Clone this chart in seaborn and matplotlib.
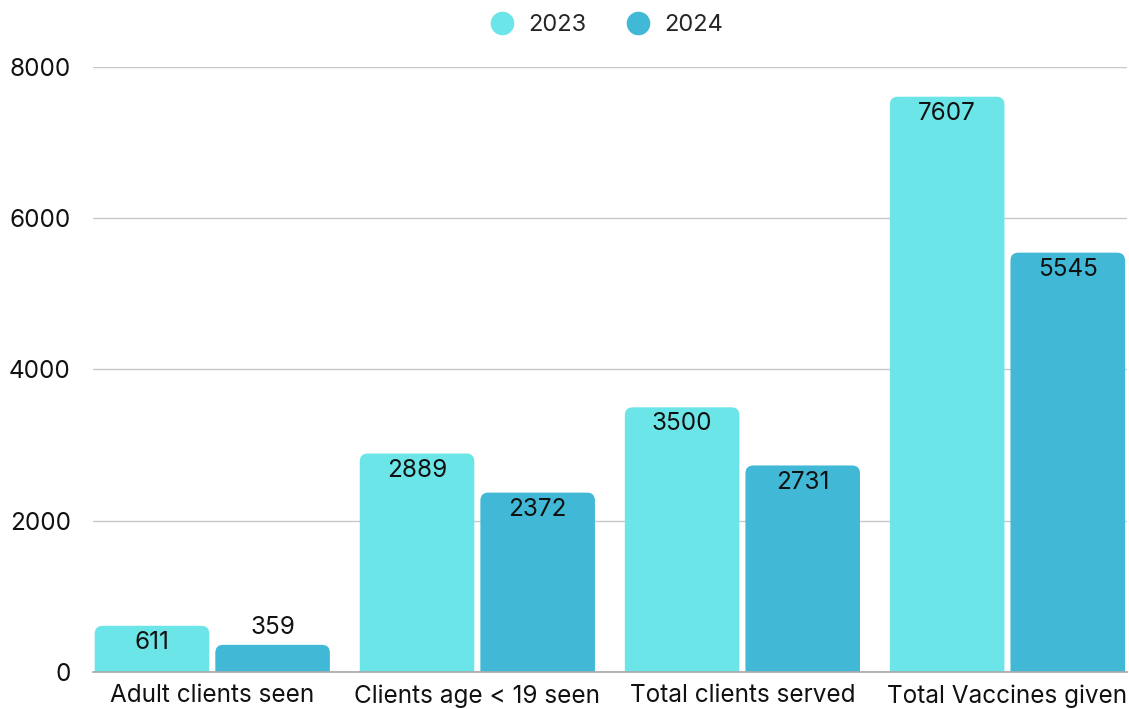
import pandas as pd
import matplotlib.pyplot as plt
import seaborn as sns
from matplotlib.patches import FancyBboxPatch
from matplotlib.lines import Line2D

# -----------------------------
# Data
# -----------------------------
categories = ["Adult clients seen", "Clients age < 19 seen",
              "Total clients served", "Total Vaccines given"]
years = ["2023", "2024"]
values_2023 = [611, 2889, 3500, 7607]
values_2024 = [359, 2372, 2731, 5545]
colors = ["#6ce5e8", "#41b8d5"]

df = pd.DataFrame({
    "category": categories * 2,
    "year": [years[0]] * 4 + [years[1]] * 4,
    "value": values_2023 + values_2024,
})

# Style
sns.set_theme(style="white")
plt.rcParams["font.family"] = ["Inter", "DejaVu Sans"]

fig = plt.figure(figsize=(11.29, 7.09), dpi=100)
ax = fig.add_axes([0.0824, 0.0522, 0.9156, 0.8533])

sns.barplot(data=df, x="category", y="value", hue="year",
            palette=colors, saturation=1, width=0.91, gap=0.05,
            ax=ax, legend=False)

ax.set_xlim(-0.45, 3.45)
ax.set_ylim(0, 8000)

# -----------------------------
# Rounded bars + labels
# -----------------------------
bars = [p for p in ax.patches if p.get_height() > 0]
for p in bars:
    x, w, h = p.get_x(), p.get_width(), p.get_height()
    fc = p.get_facecolor()
    p.set_visible(False)
    rb = FancyBboxPatch((x, -300), w, h + 300,
                        boxstyle="round,pad=0,rounding_size=0.03",
                        mutation_aspect=3500, fc=fc, ec="none", zorder=2)
    ax.add_patch(rb)
    if h > 500:
        ax.text(x + w / 2, h - 220, f"{int(h)}", ha="center", va="center",
                fontsize=17.5, color="#111111", zorder=3)
    else:
        ax.text(x + w / 2, h + 225, f"{int(h)}", ha="center", va="center",
                fontsize=17.5, color="#111111", zorder=3)

# -----------------------------
# Axes styling
# -----------------------------
ax.set_yticks([0, 2000, 4000, 6000, 8000])
ax.yaxis.grid(True, color="#c8c8c8", linewidth=1)
ax.set_axisbelow(True)
for s in ["top", "right", "left"]:
    ax.spines[s].set_visible(False)
ax.spines["bottom"].set_color("#aaaaaa")
ax.spines["bottom"].set_zorder(4)
ax.tick_params(axis="y", length=0, pad=16, labelsize=17.5, labelcolor="#111111")
ax.tick_params(axis="x", length=0, pad=9, labelsize=17.5, labelcolor="#111111")
ax.set_xlabel("")
ax.set_ylabel("")

handles = [Line2D([], [], marker="o", ls="", markersize=17,
                  markerfacecolor=c, markeredgecolor="none") for c in colors]
fig.legend(handles, years, loc="upper center", bbox_to_anchor=(0.532, 1.01),
           ncol=2, frameon=False, fontsize=17, handletextpad=0.1,
           columnspacing=1.2)

plt.savefig("out.png", dpi=100)
